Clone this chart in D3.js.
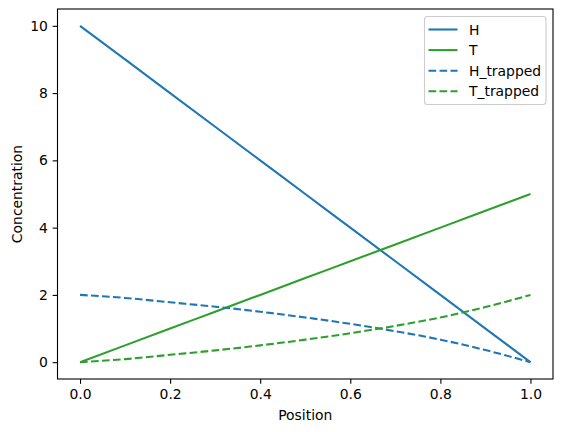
<!DOCTYPE html>
<html>
<head>
<meta charset="utf-8">
<script src="https://cdn.jsdelivr.net/npm/d3@7"></script>
<style>
  body { margin: 0; background: #fff; }
  text { font-family: "DejaVu Sans", sans-serif; fill: #000; }
</style>
</head>
<body>
<div id="chart"></div>
<script>
(function(d3) {
  'use strict';

  // data
  var position = [0, 0.1, 0.2, 0.3, 0.4, 0.5, 0.6, 0.7, 0.8, 0.9, 1.0];
  var hValues = [10, 9, 8, 7, 6, 5, 4, 3, 2, 1, 0];
  var tValues = [0, 0.5, 1, 1.5, 2, 2.5, 3, 3.5, 4, 4.5, 5];
  var hTrapped = [2.0, 1.91, 1.78, 1.65, 1.50, 1.33, 1.14, 0.92, 0.67, 0.36, 0.0];
  var tTrapped = [0.0, 0.09, 0.22, 0.35, 0.50, 0.67, 0.86, 1.08, 1.33, 1.64, 2.0];
  var xTicks = [0, 0.2, 0.4, 0.6, 0.8, 1.0];
  var yTicks = [0, 2, 4, 6, 8, 10];

  var series = [
    { name: 'H', values: hValues, color: '#1f77b4', dashed: false },
    { name: 'T', values: tValues, color: '#2ca02c', dashed: false },
    { name: 'H_trapped', values: hTrapped, color: '#1f77b4', dashed: true },
    { name: 'T_trapped', values: tTrapped, color: '#2ca02c', dashed: true }
  ];

  var width = 563;
  var height = 432;
  var left = 57.5, right = 553, top = 9, bottom = 379;

  var svg = d3.select('#chart')
    .append('svg')
    .attr('width', width)
    .attr('height', height);

  var x = d3.scaleLinear().domain([-0.05, 1.05]).range([left, right]);
  var y = d3.scaleLinear().domain([-0.5, 10.5]).range([bottom, top]);

  var line = d3.line()
    .x(function(d) { return x(d[0]); })
    .y(function(d) { return y(d[1]); })
    .curve(d3.curveMonotoneX);

  svg.selectAll('path.series')
    .data(series)
    .enter()
    .append('path')
    .attr('class', 'series')
    .attr('fill', 'none')
    .attr('stroke', function(d) { return d.color; })
    .attr('stroke-width', 2.08)
    .attr('stroke-dasharray', function(d) { return d.dashed ? '7.7,3.3' : null; })
    .attr('d', function(d) {
      return line(position.map(function(p, i) { return [p, d.values[i]]; }));
    });

  // axes
  var xAxis = svg.append('g')
    .attr('transform', 'translate(0,' + bottom + ')')
    .call(d3.axisBottom(x).tickValues(xTicks).tickSizeOuter(0).tickSize(4.86).tickPadding(4.8)
      .tickFormat(d3.format('.1f')));
  var yAxis = svg.append('g')
    .attr('transform', 'translate(' + left + ',0)')
    .call(d3.axisLeft(y).tickValues(yTicks).tickSizeOuter(0).tickSize(4.86).tickPadding(4.8)
      .tickFormat(d3.format('d')));

  [xAxis, yAxis].forEach(function(g) {
    g.select('.domain').remove();
    g.selectAll('line').attr('stroke', '#000').attr('stroke-width', 1.1);
    g.selectAll('text').attr('font-size', '13.9px').attr('font-family', 'DejaVu Sans').attr('fill', '#000');
  });

  svg.append('rect')
    .attr('x', left).attr('y', top)
    .attr('width', right - left).attr('height', bottom - top)
    .attr('fill', 'none')
    .attr('stroke', '#000')
    .attr('stroke-width', 1.1);

  svg.append('text')
    .attr('x', (left + right) / 2)
    .attr('y', 420)
    .attr('text-anchor', 'middle')
    .attr('font-size', '13.9px')
    .text('Position');

  svg.append('text')
    .attr('transform', 'translate(22,' + ((top + bottom) / 2) + ') rotate(-90)')
    .attr('text-anchor', 'middle')
    .attr('font-size', '13.9px')
    .text('Concentration');

  // legend
  var legend = svg.append('g').attr('transform', 'translate(424.5,16.5)');
  legend.append('rect')
    .attr('width', 121.5)
    .attr('height', 88)
    .attr('rx', 3)
    .attr('fill', '#fff')
    .attr('fill-opacity', 0.8)
    .attr('stroke', '#cccccc')
    .attr('stroke-width', 1.1);

  var item = legend.selectAll('.legend')
    .data(series)
    .enter()
    .append('g')
    .attr('class', 'legend')
    .attr('transform', function(d, i) { return 'translate(0,' + (13 + i * 20.6) + ')'; });

  item.append('line')
    .attr('x1', 4).attr('x2', 33)
    .attr('stroke', function(d) { return d.color; })
    .attr('stroke-width', 2.08)
    .attr('stroke-dasharray', function(d) { return d.dashed ? '7.7,3.3' : null; });

  item.append('text')
    .attr('x', 44.5)
    .attr('y', 5)
    .attr('font-size', '13.9px')
    .text(function(d) { return d.name; });

})(window.d3);
</script>
</body>
</html>
